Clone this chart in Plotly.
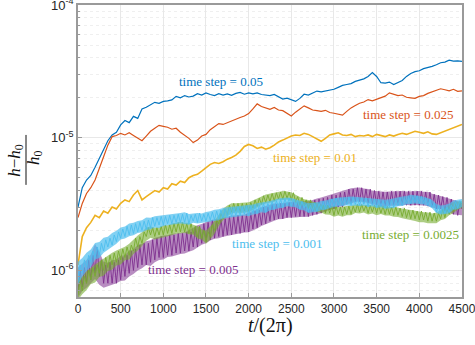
import numpy as np
import plotly.graph_objects as go

# time axis t/(2*pi)
t = list(range(0, 4501, 50))
t25 = list(range(0, 4501, 25))

# (h-h0)/h0 in units of 1e-6
dt_005 = [3.0, 4.2, 4.8, 5.2, 6.0, 7.0, 8.0, 9.5, 10.5, 11.0,
          12.5, 13.5, 13.0, 14.5, 14.0, 16.5, 17.0, 17.8, 18.5, 18.2,
          18.8, 19.0, 19.3, 20.5, 20.0, 20.8, 20.3, 20.6, 21.5, 21.0,
          21.8, 21.2, 20.8, 21.5, 21.0, 21.4, 20.9, 21.6, 22.0, 21.3,
          21.8, 21.4, 21.8, 21.2, 21.0, 20.8, 21.2, 20.5, 19.6, 19.9,
          19.4, 18.8, 19.8, 21.3, 21.0, 21.6, 22.5, 22.2, 22.6, 23.0,
          23.2, 24.0, 24.8, 25.2, 25.6, 26.6, 27.2, 27.8, 29.0, 31.0,
          29.0, 26.0, 25.8, 26.3, 25.2, 26.0, 27.0, 29.0, 30.5, 31.5,
          32.0, 33.2, 33.8, 34.5, 35.5, 36.8, 37.2, 38.5, 37.8, 38.0, 37.6]

dt_0025 = [2.5, 3.2, 3.8, 4.2, 4.8, 6.0, 7.2, 8.8, 10.2, 10.4,
           10.8, 10.5, 10.9, 10.4, 10.0, 9.5, 10.3, 11.2, 11.8, 12.4,
           12.2, 12.0, 11.6, 11.8, 11.0, 10.4, 9.9, 9.2, 9.6, 10.3,
           10.6, 11.5, 12.2, 12.8, 12.6, 13.0, 13.5, 13.8, 14.2, 14.6,
           15.2, 16.5, 18.0, 17.2, 16.8, 16.4, 16.9, 16.2, 16.0, 15.2,
           14.6, 15.6, 16.5, 17.4, 16.8, 16.2, 16.0, 15.8, 16.1, 15.5,
           15.3, 15.0, 14.8, 15.8, 16.8, 17.5, 18.2, 18.6, 19.4, 19.0,
           19.6, 20.2, 20.6, 21.8, 21.4, 20.8, 21.0, 20.2, 20.0, 19.8,
           20.5, 20.8, 21.6, 22.2, 23.0, 23.4, 23.0, 22.6, 23.2, 22.4, 22.6]

dt_01 = [1.1, 1.8, 2.1, 2.3, 2.6, 2.5, 2.8, 2.7, 3.0, 2.9,
         3.2, 3.4, 3.3, 3.7, 4.0, 3.4, 3.6, 3.8, 4.0, 3.9,
         4.2, 4.1, 4.5, 4.4, 4.7, 4.6, 5.0, 5.2, 5.3, 5.6,
         5.9, 6.3, 6.5, 6.4, 6.6, 6.9, 7.1, 7.4, 7.9, 8.6,
         8.9, 8.7, 8.3, 8.5, 8.2, 8.4, 8.8, 9.3, 9.6, 10.0,
         10.3, 10.5, 10.4, 10.8, 10.6, 10.2, 9.8, 9.4, 9.9, 10.5,
         10.7, 10.9, 10.5, 10.4, 10.6, 10.2, 10.4, 10.3, 10.5, 10.2,
         10.6, 10.4, 10.2, 10.5, 10.3, 10.6, 10.8, 10.6, 10.9, 11.2,
         11.0, 10.8, 11.1, 10.7, 10.6, 10.9, 11.3, 11.6, 11.9, 12.2, 12.6]

# the three small-step runs are very noisy: lower / upper edges of their bands (every 50)
dt_005b_lo = [0.62, 0.7, 0.74, 0.8, 0.86, 0.78, 0.74, 0.76, 0.78, 0.8,
              0.83, 0.84, 0.9, 0.94, 1.0, 1.04, 1.1, 1.08, 1.15, 1.2,
              1.21, 1.26, 1.27, 1.3, 1.33, 1.34, 1.38, 1.42, 1.49, 1.56,
              1.6, 1.68, 1.73, 1.75, 1.79, 1.82, 1.84, 1.89, 1.9, 1.93,
              1.94, 2.01, 2.07, 2.16, 2.21, 2.3, 2.37, 2.43, 2.44, 2.49,
              2.5, 2.51, 2.53, 2.55, 2.54, 2.61, 2.64, 2.71, 2.77, 2.86,
              2.91, 3.01, 3.04, 3.16, 3.19, 3.29, 3.3, 3.27, 3.23, 3.14,
              3.11, 3.04, 3.06, 3.07, 3.11, 3.09, 3.1, 3.12, 3.09, 3.11,
              3.1, 3.08, 3.06, 2.99, 2.91, 2.89, 2.8, 2.76, 2.64, 2.61, 2.6]
dt_005b_hi = [1.05, 1.12, 1.2, 1.32, 1.58, 1.38, 1.16, 1.14, 1.19, 1.21,
              1.29, 1.3, 1.41, 1.44, 1.56, 1.59, 1.66, 1.69, 1.76, 1.79,
              1.83, 1.84, 1.89, 1.9, 1.93, 1.94, 2.01, 2.09, 2.19, 2.24,
              2.33, 2.39, 2.43, 2.44, 2.49, 2.54, 2.59, 2.6, 2.63, 2.64,
              2.73, 2.79, 2.89, 2.99, 3.06, 3.14, 3.19, 3.19, 3.23, 3.24,
              3.29, 3.29, 3.31, 3.29, 3.33, 3.39, 3.49, 3.54, 3.63, 3.69,
              3.79, 3.87, 3.96, 4.09, 4.16, 4.19, 4.21, 4.14, 4.11, 3.99,
              3.96, 3.89, 3.91, 3.94, 3.96, 3.94, 3.96, 3.94, 3.96, 3.94,
              3.96, 3.91, 3.91, 3.79, 3.73, 3.64, 3.56, 3.47, 3.41, 3.29, 3.25]

dt_00025_lo = [0.6, 0.66, 0.71, 0.79, 0.81, 0.89, 0.91, 0.99, 1.01, 1.09,
               1.11, 1.19, 1.21, 1.33, 1.41, 1.53, 1.67, 1.76, 1.71, 1.76,
               1.77, 1.81, 1.84, 1.89, 1.89, 1.91, 1.87, 1.86, 1.74, 1.71,
               1.59, 1.71, 1.89, 2.16, 2.39, 2.56, 2.69, 2.73, 2.71, 2.73,
               2.74, 2.86, 2.99, 3.11, 3.19, 3.26, 3.29, 3.41, 3.39, 3.43,
               3.34, 3.23, 3.04, 3.06, 2.89, 2.89, 2.74, 2.73, 2.64, 2.63,
               2.54, 2.59, 2.54, 2.61, 2.61, 2.71, 2.69, 2.73, 2.64, 2.69,
               2.61, 2.66, 2.59, 2.59, 2.54, 2.53, 2.47, 2.43, 2.39, 2.36,
               2.31, 2.31, 2.27, 2.26, 2.27, 2.39, 2.44, 2.61, 2.71, 2.86, 2.95]
dt_00025_hi = [0.86, 0.9, 0.99, 1.04, 1.11, 1.17, 1.23, 1.29, 1.36, 1.41,
               1.46, 1.51, 1.59, 1.71, 1.83, 1.94, 2.11, 2.14, 2.11, 2.11,
               2.19, 2.19, 2.26, 2.29, 2.33, 2.29, 2.29, 2.21, 2.16, 2.04,
               1.99, 2.14, 2.36, 2.64, 2.91, 3.09, 3.21, 3.21, 3.23, 3.21,
               3.26, 3.37, 3.51, 3.61, 3.73, 3.79, 3.86, 3.89, 3.96, 3.94,
               3.89, 3.71, 3.56, 3.44, 3.39, 3.29, 3.23, 3.14, 3.11, 3.04,
               3.03, 2.99, 3.03, 3.04, 3.09, 3.14, 3.13, 3.11, 3.11, 3.09,
               3.09, 3.07, 3.06, 3.01, 3.01, 2.97, 2.93, 2.87, 2.86, 2.81,
               2.79, 2.74, 2.73, 2.69, 2.73, 2.84, 2.96, 3.09, 3.26, 3.31, 3.35]

dt_0001_lo = [0.78, 0.9, 0.99, 1.06, 1.21, 1.24, 1.36, 1.44, 1.51, 1.59,
              1.71, 1.74, 1.81, 1.84, 1.91, 1.94, 2.01, 2.04, 2.11, 2.09,
              2.16, 2.19, 2.21, 2.24, 2.26, 2.24, 2.21, 2.29, 2.26, 2.29,
              2.31, 2.34, 2.36, 2.39, 2.46, 2.49, 2.51, 2.54, 2.56, 2.59,
              2.56, 2.64, 2.66, 2.74, 2.71, 2.84, 2.86, 2.94, 2.96, 3.04,
              3.01, 2.99, 2.86, 2.84, 2.71, 2.74, 2.76, 2.84, 2.86, 2.94,
              3.01, 3.04, 3.06, 3.09, 3.06, 3.09, 3.06, 3.09, 3.01, 3.04,
              2.96, 2.99, 2.91, 2.94, 2.96, 3.04, 3.06, 3.14, 3.16, 3.19,
              3.16, 3.14, 3.06, 2.94, 2.71, 2.64, 2.66, 2.69, 2.86, 2.89, 3.0]
dt_0001_hi = [1.16, 1.24, 1.36, 1.44, 1.61, 1.64, 1.76, 1.79, 1.91, 1.99,
              2.11, 2.14, 2.26, 2.29, 2.36, 2.39, 2.51, 2.49, 2.56, 2.59,
              2.61, 2.64, 2.66, 2.69, 2.71, 2.74, 2.66, 2.69, 2.71, 2.69,
              2.76, 2.79, 2.86, 2.89, 2.96, 2.99, 3.01, 3.04, 3.06, 3.09,
              3.11, 3.14, 3.21, 3.24, 3.31, 3.34, 3.41, 3.49, 3.51, 3.54,
              3.51, 3.44, 3.36, 3.29, 3.21, 3.24, 3.26, 3.34, 3.36, 3.44,
              3.51, 3.54, 3.56, 3.59, 3.61, 3.59, 3.56, 3.54, 3.51, 3.49,
              3.46, 3.44, 3.41, 3.44, 3.51, 3.54, 3.61, 3.64, 3.71, 3.69,
              3.66, 3.59, 3.51, 3.39, 3.16, 3.09, 3.11, 3.19, 3.36, 3.39, 3.45]

# the same three runs, individual samples every 25
dt_005b = [0.7, 1.0, 0.75, 1.05, 0.8, 1.2, 0.85, 1.3, 0.95, 1.5, 0.9, 1.2,
           0.8, 1.1, 0.8, 1.15, 0.8, 1.15, 0.8, 1.2, 0.85, 1.25, 0.9, 1.3,
           0.95, 1.4, 1.0, 1.45, 1.05, 1.55, 1.1, 1.6, 1.1, 1.6, 1.15, 1.7,
           1.2, 1.75, 1.25, 1.8, 1.25, 1.8, 1.3, 1.85, 1.3, 1.85, 1.35, 1.9,
           1.35, 1.9, 1.4, 1.95, 1.4, 1.95, 1.5, 2.1, 1.5, 2.15, 1.6, 2.25,
           1.65, 2.3, 1.7, 2.4, 1.75, 2.4, 1.8, 2.45, 1.8, 2.45, 1.85, 2.55,
           1.85, 2.55, 1.9, 2.6, 1.9, 2.6, 1.95, 2.65, 1.95, 2.7, 2.05, 2.8,
           2.1, 2.85, 2.2, 3.0, 2.25, 3.0, 2.35, 3.15, 2.4, 3.15, 2.45, 3.2,
           2.45, 3.2, 2.5, 3.25, 2.5, 3.25, 2.55, 3.3, 2.55, 3.3, 2.55, 3.3,
           2.55, 3.3, 2.6, 3.4, 2.65, 3.45, 2.7, 3.5, 2.75, 3.55, 2.85, 3.7,
           2.9, 3.7, 3.0, 3.85, 3.0, 3.9, 3.15, 4.1, 3.2, 4.1, 3.3, 4.2,
           3.3, 4.2, 3.25, 4.1, 3.2, 4.1, 3.15, 4.0, 3.1, 3.95, 3.05, 3.9,
           3.05, 3.9, 3.1, 3.95, 3.1, 3.95, 3.1, 3.95, 3.1, 3.95, 3.1, 3.95,
           3.1, 3.95, 3.1, 3.95, 3.1, 3.95, 3.1, 3.9, 3.05, 3.9, 3.0, 3.75,
           2.9, 3.7, 2.9, 3.6, 2.8, 3.55, 2.75, 3.45, 2.65, 3.35, 2.6, 3.25,
           2.9]

dt_00025 = [0.65, 0.85, 0.7, 0.9, 0.8, 1.0, 0.85, 1.05, 0.9, 1.1, 0.95, 1.2,
            1.0, 1.25, 1.05, 1.3, 1.1, 1.35, 1.15, 1.4, 1.2, 1.45, 1.25, 1.5,
            1.3, 1.55, 1.4, 1.75, 1.5, 1.8, 1.6, 1.95, 1.8, 2.1, 1.85, 2.1,
            1.8, 2.1, 1.85, 2.15, 1.85, 2.2, 1.9, 2.2, 1.9, 2.25, 1.95, 2.3,
            1.95, 2.3, 1.95, 2.25, 1.9, 2.25, 1.9, 2.15, 1.8, 2.15, 1.75, 2.0,
            1.65, 1.95, 1.8, 2.2, 2.0, 2.4, 2.25, 2.7, 2.45, 2.9, 2.6, 3.1,
            2.75, 3.2, 2.8, 3.2, 2.75, 3.2, 2.8, 3.2, 2.8, 3.25, 2.95, 3.4,
            3.05, 3.5, 3.15, 3.65, 3.25, 3.7, 3.3, 3.8, 3.35, 3.85, 3.45, 3.9,
            3.45, 3.95, 3.5, 3.9, 3.4, 3.85, 3.3, 3.6, 3.1, 3.55, 3.15, 3.4,
            2.95, 3.4, 2.95, 3.25, 2.8, 3.2, 2.8, 3.1, 2.7, 3.1, 2.7, 3.05,
            2.6, 3.05, 2.65, 3.0, 2.6, 3.0, 2.65, 3.05, 2.65, 3.05, 2.75, 3.15,
            2.75, 3.15, 2.8, 3.1, 2.7, 3.1, 2.75, 3.1, 2.7, 3.1, 2.7, 3.05,
            2.65, 3.05, 2.65, 3.0, 2.6, 3.0, 2.6, 2.95, 2.55, 2.95, 2.5, 2.85,
            2.45, 2.85, 2.45, 2.8, 2.4, 2.8, 2.4, 2.75, 2.35, 2.75, 2.35, 2.7,
            2.35, 2.7, 2.45, 2.9, 2.5, 2.9, 2.65, 3.1, 2.8, 3.2, 2.9, 3.3,
            3.15]

dt_0001 = [0.85, 1.1, 0.95, 1.2, 1.05, 1.3, 1.15, 1.4, 1.25, 1.5, 1.3, 1.6,
           1.4, 1.7, 1.5, 1.75, 1.55, 1.85, 1.65, 1.95, 1.75, 2.05, 1.8, 2.15,
           1.85, 2.2, 1.9, 2.25, 1.95, 2.3, 2.0, 2.35, 2.05, 2.4, 2.1, 2.5,
           2.15, 2.5, 2.2, 2.55, 2.2, 2.55, 2.25, 2.6, 2.25, 2.6, 2.3, 2.65,
           2.3, 2.65, 2.3, 2.7, 2.25, 2.6, 2.35, 2.65, 2.3, 2.7, 2.35, 2.65,
           2.35, 2.7, 2.4, 2.75, 2.4, 2.8, 2.45, 2.85, 2.5, 2.9, 2.55, 2.9,
           2.55, 2.95, 2.6, 3.0, 2.6, 3.0, 2.65, 3.05, 2.6, 3.05, 2.7, 3.1,
           2.7, 3.1, 2.8, 3.2, 2.75, 3.2, 2.9, 3.3, 2.9, 3.35, 3.0, 3.45,
           3.0, 3.45, 3.1, 3.5, 3.05, 3.45, 3.1, 3.35, 2.9, 3.3, 2.95, 3.15,
           2.75, 3.1, 2.8, 3.2, 2.8, 3.2, 2.9, 3.3, 2.9, 3.3, 3.0, 3.45,
           3.05, 3.5, 3.1, 3.5, 3.1, 3.5, 3.15, 3.55, 3.1, 3.55, 3.15, 3.5,
           3.1, 3.5, 3.15, 3.5, 3.05, 3.45, 3.1, 3.4, 3.0, 3.4, 3.05, 3.35,
           2.95, 3.35, 3.0, 3.4, 3.0, 3.4, 3.1, 3.5, 3.1, 3.5, 3.2, 3.6,
           3.2, 3.6, 3.25, 3.65, 3.2, 3.6, 3.2, 3.5, 3.1, 3.45, 3.0, 3.2,
           2.75, 3.05, 2.7, 3.0, 2.7, 3.0, 2.75, 3.1, 2.9, 3.3, 2.95, 3.35,
           3.2]

line_labels = ["time step = 0.05", "time step = 0.025", "time step = 0.01"]
line_series = [dt_005, dt_0025, dt_01]
line_colors = ["#0072BD", "#D95319", "#EDB120"]
line_widths = [1.2, 1.2, 1.6]

band_labels = ["time step = 0.005", "time step = 0.0025", "time step = 0.001"]
band_edges = [(dt_005b_lo, dt_005b_hi), (dt_00025_lo, dt_00025_hi), (dt_0001_lo, dt_0001_hi)]
band_samples = [dt_005b, dt_00025, dt_0001]
band_colors = ["#7E2F8E", "#77AC30", "#4DBEEE"]
band_fill = ["rgba(126,47,142,0.55)", "rgba(119,172,48,0.6)", "rgba(77,190,238,0.7)"]

labels = line_labels + band_labels
colors = line_colors + band_colors
# label anchor positions (t, log10 value)
label_t = [1676, 3867, 2777, 1348, 3891, 2332]
label_y = [-4.576, -4.826, -5.152, -5.992, -5.727, -5.795]

xticks = list(range(0, 4501, 500))
yticks = [1e-6, 1e-5, 1e-4]
ytext = ["10<sup>-6</sup>", "10<sup>-5</sup>", "10<sup>-4</sup>"]
yminor = [m * 10.0 ** e for e in (-7, -6, -5) for m in range(2, 10)]

fig = go.Figure()
for name, vals, c, w in zip(line_labels, line_series, line_colors, line_widths):
    fig.add_trace(go.Scatter(x=t, y=[v * 1e-6 for v in vals], mode="lines",
                             name=name, line=dict(color=c, width=w)))
for name, (lo, hi), samples, c, fc in zip(band_labels, band_edges, band_samples,
                                          band_colors, band_fill):
    xs = t + t[::-1]
    ys = [v * 1e-6 for v in hi] + [v * 1e-6 for v in lo[::-1]]
    fig.add_trace(go.Scatter(x=xs, y=ys, mode="lines", fill="toself", name=name,
                             fillcolor=fc, line=dict(width=0)))
    fig.add_trace(go.Scatter(x=t25, y=[v * 1e-6 for v in samples], mode="lines",
                             name=name, line=dict(color=c, width=0.9)))

for name, c, lx, ly in zip(labels, colors, label_t, label_y):
    fig.add_annotation(x=lx, y=ly, xref="x", yref="y", text=name, showarrow=False,
                       font=dict(family="Liberation Serif", size=13, color=c),
                       xanchor="center", yanchor="middle")

# axis titles
fig.add_annotation(x=0.5, y=-0.096, xref="paper", yref="paper", text="<i>t</i>/(2π)",
                   showarrow=False, font=dict(family="Liberation Serif", size=20, color="#111"),
                   xanchor="center", yanchor="middle")
fig.add_annotation(x=-0.162, y=0.469, xref="paper", yref="paper",
                   text="<i>h</i>−<i>h</i><sub>0</sub>", textangle=-90,
                   showarrow=False, font=dict(family="Liberation Serif", size=17, color="#111"),
                   xanchor="center", yanchor="middle")
fig.add_annotation(x=-0.112, y=0.479, xref="paper", yref="paper",
                   text="<i>h</i><sub>0</sub>", textangle=-90,
                   showarrow=False, font=dict(family="Liberation Serif", size=17, color="#111"),
                   xanchor="center", yanchor="middle")
fig.add_shape(type="line", xref="paper", yref="paper", x0=-0.1354, x1=-0.1354,
              y0=0.384, y1=0.555, line=dict(color="#111", width=1))

fig.update_layout(
    width=475, height=345,
    margin=dict(l=78, r=13, t=5, b=48),
    paper_bgcolor="white", plot_bgcolor="white",
    showlegend=False,
    font=dict(family="Liberation Sans", size=12, color="#262626"),
)
fig.update_xaxes(range=[0, 4500.5], tickvals=xticks, ticks="inside", ticklen=4,
                 tickcolor="#9a9a9a", showline=True, mirror=True, linecolor="#9a9a9a",
                 linewidth=1.5, showgrid=True, gridcolor="#e8e8e8", gridwidth=1,
                 zeroline=False, automargin=False, ticklabeloverflow="allow",
                 tickfont=dict(size=12, color="#262626"))
fig.update_yaxes(type="log", range=[np.log10(6.3e-7), -3.999], tickvals=yticks,
                 ticktext=ytext, ticks="inside", ticklen=4, tickcolor="#9a9a9a",
                 showline=True, mirror=True, linecolor="#9a9a9a", linewidth=1.5,
                 showgrid=True, gridcolor="#e8e8e8", gridwidth=1, zeroline=False,
                 automargin=False, ticklabeloverflow="allow",
                 tickfont=dict(size=13, color="#262626"),
                 minor=dict(tickvals=yminor, ticks="inside", ticklen=2, tickcolor="#9a9a9a",
                            showgrid=True, gridcolor="#efefef", griddash="dot"))

fig.write_html("out.html", config={"displayModeBar": False},
               post_script="document.body.style.margin='0px';")
